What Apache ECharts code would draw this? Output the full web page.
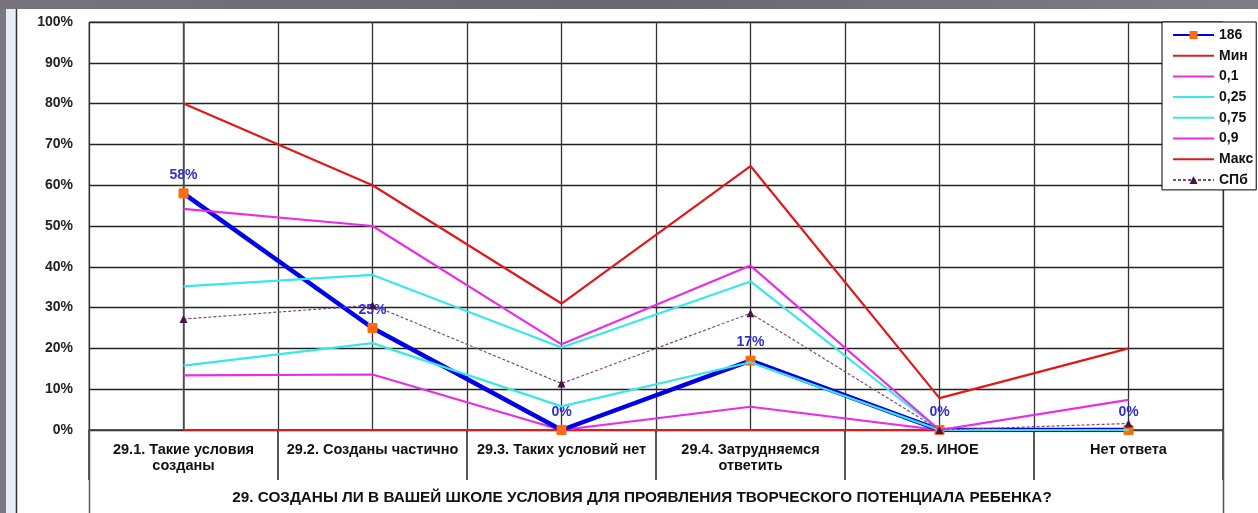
<!DOCTYPE html>
<html>
<head>
<meta charset="utf-8">
<script src="https://cdn.jsdelivr.net/npm/echarts@6/dist/echarts.min.js"></script>
<style>
html,body{margin:0;padding:0;background:#fff;}
#chart{width:1258px;height:513px;}
</style>
</head>
<body>
<div id="chart"></div>
<script>
const categories = [
  "29.1. Такие условия\nсозданы",
  "29.2. Созданы частично",
  "29.3. Таких условий нет",
  "29.4. Затрудняемся\nответить",
  "29.5. ИНОЕ",
  "Нет ответа"
];
const axisTitle = "29. СОЗДАНЫ ЛИ В ВАШЕЙ ШКОЛЕ УСЛОВИЯ ДЛЯ ПРОЯВЛЕНИЯ ТВОРЧЕСКОГО ПОТЕНЦИАЛА РЕБЕНКА?";
const seriesNames = ['186', 'Мин', '0,1', '0,25', '0,75', '0,9', 'Макс', 'СПб'];

const s186  = [58, 25, 0, 17, 0, 0];
const sMin  = [0, 0, 0, 0, 0, 0];
const s01   = [13.4, 13.6, 0, 5.7, 0, 0];
const s025  = [15.8, 21.3, 5.8, 16.6, 0, 0];
const s075  = [35.2, 38, 20.2, 36.4, 0, 0];
const s09   = [54.2, 50, 21, 40.3, 0, 7.4];
const sMax  = [80, 60, 31, 64.7, 7.8, 20];
const sSpb  = [27.2, 30.6, 11.4, 28.6, 0, 1.6];

const FONT = 'Arial, "Liberation Sans", sans-serif';

const chart = echarts.init(document.getElementById('chart'));

function plain(name, data, color, z) {
  return {
    name: name, type: 'line', data: data, xAxisIndex: 0, z: z,
    symbol: 'none', showSymbol: false,
    lineStyle: {color: color, width: 2.2},
    itemStyle: {color: color},
    emphasis: {disabled: true}
  };
}

const legendData = seriesNames.map(n => (n === '186' || n === 'СПб') ? {name: n} : {name: n, itemStyle: {opacity: 0}});

chart.setOption({
  animation: false,
  backgroundColor: '#ffffff',
  graphic: [
    {type: 'rect', shape: {x: 0, y: 0, width: 1258, height: 9}, style: {fill: new echarts.graphic.LinearGradient(0,0,1,0,[{offset:0,color:'#77737d'},{offset:0.5,color:'#6b6770'},{offset:1,color:'#807d86'}])}, silent: true, z: 0},
    {type: 'rect', shape: {x: 0, y: 9, width: 6, height: 504}, style: {fill: '#7b7982'}, silent: true, z: 0},
    {type: 'rect', shape: {x: 6, y: 9, width: 10, height: 504}, style: {fill: '#e6edf7'}, silent: true, z: 0},
    {type: 'line', shape: {x1: 16.5, y1: 9, x2: 16.5, y2: 513}, style: {stroke: '#333', lineWidth: 1.5}, silent: true, z: 0},
    {type: 'line', shape: {x1: 89.5, y1: 430, x2: 89.5, y2: 513}, style: {stroke: '#555', lineWidth: 1.5}, silent: true, z: 5},
    {type: 'line', shape: {x1: 1223.5, y1: 430, x2: 1223.5, y2: 513}, style: {stroke: '#555', lineWidth: 1.5}, silent: true, z: 5}
  ],
  grid: {left: 89, right: 35, top: 22, bottom: 83, outerBoundsMode: 'none', containLabel: false, show: true, borderColor: '#666', borderWidth: 1, backgroundColor: 'transparent'},
  legend: {
    orient: 'vertical', left: 1162, top: 22,
    backgroundColor: '#fff', borderColor: '#000', borderWidth: 1,
    padding: [6, 3, 3, 10],
    itemWidth: 41, itemHeight: 10, itemGap: 6.7,
    textStyle: {fontFamily: FONT, fontWeight: 'bold', fontSize: 14, color: '#111'},
    data: legendData
  },
  xAxis: [
    {
      type: 'category', data: categories, position: 'bottom', boundaryGap: true,
      axisLine: {show: true, lineStyle: {color: '#444', width: 1.5}},
      axisTick: {show: true, inside: false, length: 50, lineStyle: {color: '#222', width: 1.5}},
      axisLabel: {fontFamily: FONT, fontWeight: 'bold', fontSize: 14.5, color: '#111', margin: 12, lineHeight: 16, interval: 0},
      splitLine: {show: false},
      name: axisTitle, nameLocation: 'middle', nameGap: 60,
      nameTextStyle: {fontFamily: FONT, fontWeight: 'bold', fontSize: 15.3, color: '#111', padding: [0, 28, 0, 0]}
    },
    {
      type: 'value', position: 'bottom', min: -0.5, max: 5.5, interval: 0.5,
      axisLine: {show: false}, axisTick: {show: false}, axisLabel: {show: false},
      splitLine: {show: true, lineStyle: {color: '#333', width: 1.3}}
    }
  ],
  yAxis: {
    type: 'value', min: 0, max: 100, interval: 10,
    axisLine: {show: true, lineStyle: {color: '#555', width: 1.5}},
    axisTick: {show: true, length: 7, lineStyle: {color: '#333'}},
    axisLabel: {formatter: '{value}%', fontFamily: FONT, fontWeight: 'bold', fontSize: 14, color: '#222', margin: 16},
    splitLine: {show: true, lineStyle: {color: '#222', width: 1.3}}
  },
  series: [
    {
      name: '186', type: 'line', data: s186, xAxisIndex: 0, z: 3,
      symbol: 'rect', symbolSize: 9, showSymbol: true,
      lineStyle: {color: '#0000e6', width: 4.5},
      itemStyle: {color: '#ff6a10', borderColor: '#ff6a10'},
      label: {show: true, position: 'top', distance: 6, formatter: '{c}%', fontFamily: FONT, fontWeight: 'bold', fontSize: 14, color: '#3030d0'},
      emphasis: {disabled: true}
    },
    plain('Мин', sMin, '#d42020', 2),
    plain('0,1', s01, '#e52ee5', 2),
    plain('0,25', s025, '#38e8e8', 4),
    plain('0,75', s075, '#38e8e8', 4),
    plain('0,9', s09, '#e52ee5', 4),
    plain('Макс', sMax, '#e01818', 4),
    {
      name: 'СПб', type: 'line', data: sSpb, xAxisIndex: 0, z: 5,
      symbol: 'triangle', symbolSize: 8, showSymbol: true,
      lineStyle: {color: '#7a4a7a', width: 1.2, type: [3, 2]},
      itemStyle: {color: '#4a104a'},
      emphasis: {disabled: true}
    }
  ]
});
</script>
</body>
</html>
